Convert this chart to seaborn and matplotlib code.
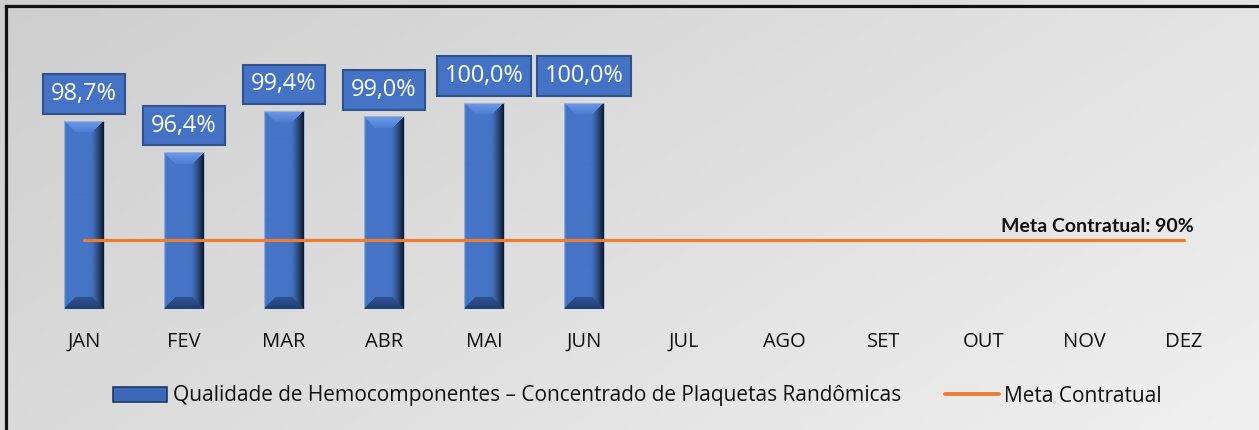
import numpy as np
import pandas as pd
import matplotlib
matplotlib.use("Agg")
import matplotlib.pyplot as plt
from matplotlib.lines import Line2D
from matplotlib.patches import Patch
from matplotlib import font_manager as fm
import seaborn as sns

# ---- data ----
months = ["JAN", "FEV", "MAR", "ABR", "MAI", "JUN",
          "JUL", "AGO", "SET", "OUT", "NOV", "DEZ"]
quality = [98.7, 96.4, 99.4, 99.0, 100.0, 100.0,
           np.nan, np.nan, np.nan, np.nan, np.nan, np.nan]
target = [90] * 12
series_name = "Qualidade de Hemocomponentes \u2013 Concentrado de Plaquetas Rand\u00f4micas"
target_name = "Meta Contratual"
target_label = "Meta Contratual: 90%"

df = pd.DataFrame({"mes": months, "qualidade": quality, "meta": target})

sns.set_theme(style="white")
plt.rcParams["font.family"] = ["DejaVu Sans"]


def pick_font(family, weight, size):
    """Regular-width, upright file of a family, closest to the wanted weight."""
    cands = [f for f in fm.fontManager.ttflist
             if f.name == family and f.style == "normal"
             and not any(k in f.fname.lower() for k in ("condensed", "narrow", "expanded", "["))]
    if not cands:
        cands = [f for f in fm.fontManager.ttflist if f.name == family and f.style == "normal"]
    if not cands:
        return fm.FontProperties(family=family, weight=weight, size=size)
    best = min(cands, key=lambda f: abs((f.weight if isinstance(f.weight, int) else 400) - weight))
    return fm.FontProperties(fname=best.fname, size=size)


W, H = 1259, 430
fig = plt.figure(figsize=(W / 100, H / 100), dpi=100)

# soft grey diagonal background
bg = fig.add_axes([0, 0, 1, 1], zorder=-5)
gx = np.linspace(0, 1, 300)[None, :]
gy = np.linspace(0, 1, 100)[:, None]
shade = (206 + 22 * gx + 12 * gy) / 255.0
bg.imshow(np.dstack([shade, shade, shade]), aspect="auto", extent=(0, 1, 0, 1),
          origin="upper")
bg.set_axis_off()

# outer frame (left and top edges visible)
fig.add_artist(Line2D([5.5 / W, 5.5 / W], [0, 1 - 5.5 / H], transform=fig.transFigure,
                      color="#111111", lw=2.3, solid_capstyle="projecting"))
fig.add_artist(Line2D([5.5 / W, 1], [1 - 5.5 / H, 1 - 5.5 / H], transform=fig.transFigure,
                      color="#111111", lw=2.3, solid_capstyle="projecting"))

ax = fig.add_axes([34 / W, 1 - 309 / H, 1200 / W, (309 - 60) / H])
ax.set_facecolor("none")

BLUE = "#4472C4"
ORANGE = "#ED7D31"

sns.barplot(data=df, x="mes", y="qualidade", order=months, color=BLUE,
            width=0.4, ax=ax, saturation=1, zorder=2)
sns.lineplot(data=df, x="mes", y="meta", sort=False, color=ORANGE, lw=2.3,
             ax=ax, zorder=3)

ax.set_ylim(85, 103.1)
ax.set_xlim(-0.5, 11.5)
ax.set_xlabel("")
ax.set_ylabel("")
ax.set_yticks([])
for s in ax.spines.values():
    s.set_visible(False)
ax.tick_params(axis="x", length=0, pad=16.5, labelcolor="#111111")
tick_font = pick_font("Open Sans", 400, 14.5)
for lab in ax.get_xticklabels():
    lab.set_fontproperties(tick_font)

fig.canvas.draw()


def hexrgb(h):
    h = h.lstrip("#")
    return np.array([int(h[i:i + 2], 16) for i in (0, 2, 4)]) / 255.0


def bevel_image(wpx, hpx):
    """Beveled bar face: flat centre, light top, dark right and bottom."""
    wpx, hpx = max(int(round(wpx)), 4), max(int(round(hpx)), 4)
    img = np.zeros((hpx, wpx, 3))
    u = np.linspace(0, 1, wpx)
    mid = hexrgb("#4674C6")
    left = hexrgb("#5280CF")
    dark = hexrgb("#111B30")
    prof = np.zeros((wpx, 3))
    for i, t in enumerate(u):
        if t < 0.05:
            prof[i] = left
        elif t < 0.68:
            prof[i] = mid
        else:
            k = (t - 0.68) / 0.32
            prof[i] = mid * (1 - k ** 1.3) + dark * k ** 1.3
    img[:] = prof[None, :, :]
    b = 12
    top_col = hexrgb("#6F9BE8")
    top_col2 = hexrgb("#4C7BD0")
    bot_col = hexrgb("#203F75")
    for r in range(min(b, hpx)):
        f = r / b
        c0, c1 = r, wpx - 1 - r
        if c1 > c0:
            img[r, c0:c1 + 1] = top_col * (1 - f) + top_col2 * f
        rb = hpx - 1 - r
        if c1 > c0:
            img[rb, c0:c1 + 1] = bot_col * (1 - 0.4 * f) + mid * 0.4 * f
    return np.clip(img, 0, 1)


value_font = pick_font("Open Sans", 400, 17)
y0 = ax.get_ylim()[0]
bars = [p for p in ax.patches if np.isfinite(p.get_height()) and p.get_height() > 0]
for p in bars:
    x0, w, top = p.get_x(), p.get_width(), p.get_height()
    (px0, py0), (px1, py1) = ax.transData.transform([(x0, y0), (x0 + w, top)])
    im = ax.imshow(bevel_image(px1 - px0, py1 - py0), extent=(x0, x0 + w, y0, top),
                   aspect="auto", origin="upper", zorder=2.2, interpolation="bilinear")
    im.set_clip_path(p)
    p.set_facecolor("none")
    p.set_edgecolor("#9DB3DA")
    p.set_linewidth(0.6)
    p.set_zorder(2.3)
    val = f"{top:.1f}%".replace(".", ",")
    ax.annotate(val, (x0 + w / 2, top), xytext=(0, 10.5), textcoords="offset points",
                ha="center", va="bottom", fontproperties=value_font, color="white", zorder=5,
                bbox=dict(boxstyle="square,pad=0.33", fc=BLUE, ec="#2F528F", lw=1.5))

ax.set_xlim(-0.5, 11.5)
ax.set_ylim(85, 103.1)

# label of the target line
ax.annotate(target_label, (11.1, 90), xytext=(0, 4), textcoords="offset points",
            ha="right", va="bottom", fontproperties=pick_font("Lato", 700, 14),
            color="#111111", zorder=5)

handles = [Patch(facecolor="#3D68B8", edgecolor="#1F3864", lw=1.2),
           Line2D([], [], color=ORANGE, lw=2.8)]
leg = ax.get_legend()
if leg is not None:
    leg.remove()
fig.legend(handles, [series_name, target_name], loc="center",
           bbox_to_anchor=(0.5 + 8 / W, 1 - 396 / H), ncol=2, frameon=False,
           prop=pick_font("Open Sans", 400, 15),
           handlelength=2.6, handleheight=0.7, handletextpad=0.25, columnspacing=2.1,
           labelcolor="#111111")

fig.savefig("out.png", dpi=100)
